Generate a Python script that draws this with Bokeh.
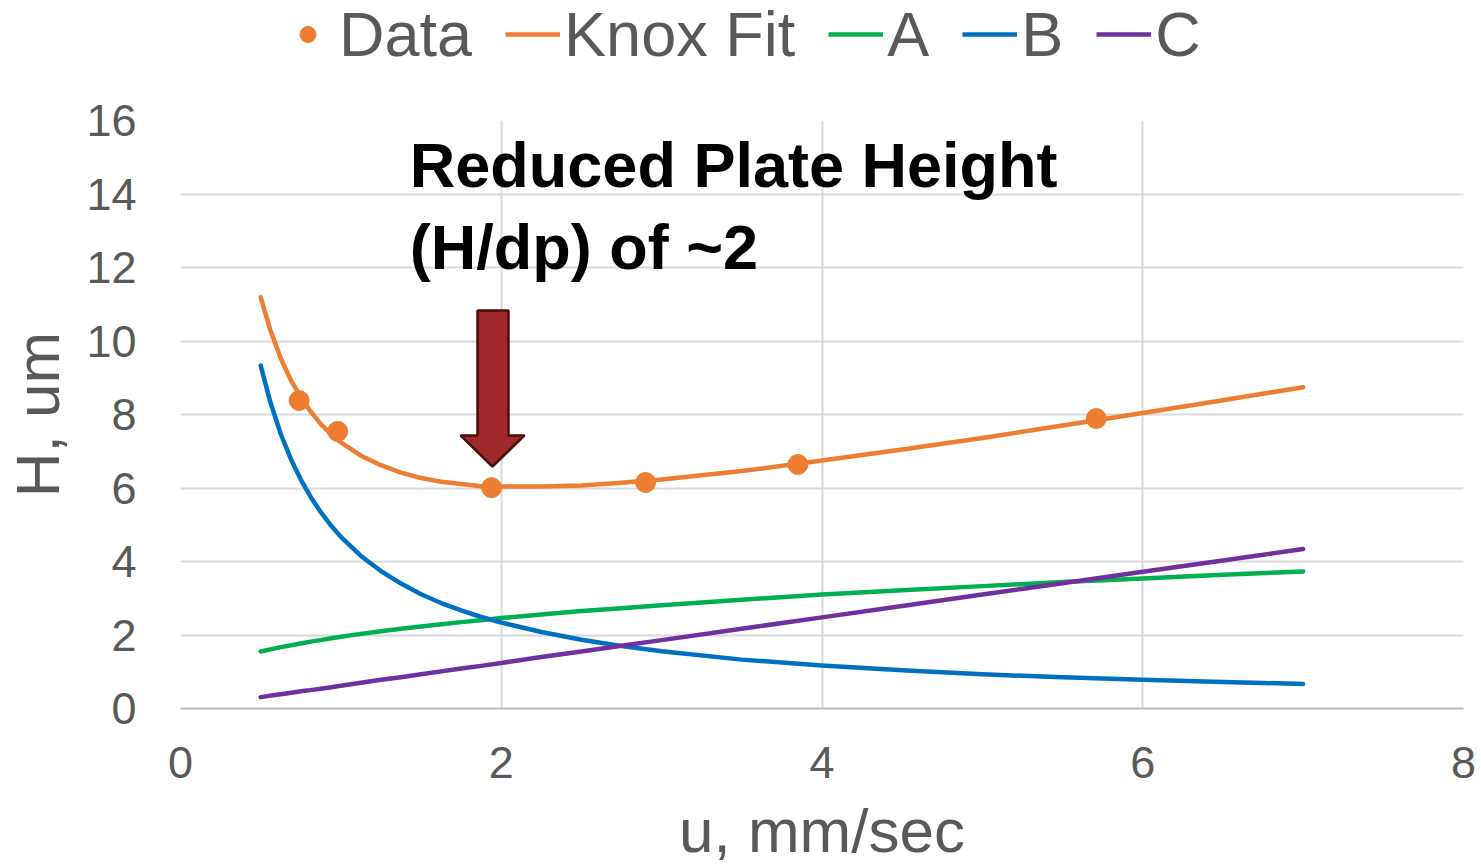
from bokeh.plotting import figure
from bokeh.models import Range1d, FixedTicker, Legend, LegendItem, Label
from bokeh.layouts import column
from bokeh.embed import file_html
from bokeh.resources import INLINE

# ---- data ----
u_data = [0.74, 0.98, 1.94, 2.90, 3.85, 5.71]
H_data = [8.38, 7.54, 6.01, 6.15, 6.64, 7.89]

u_fit = [0.5, 0.56, 0.625, 0.69, 0.75, 0.81, 0.875, 0.94, 1.0, 1.125, 1.25, 1.375, 1.5,
         1.625, 1.75, 1.875, 2.0, 2.25, 2.5, 2.75, 3.0, 3.5, 4.0, 4.5, 5.0, 5.5, 6.0, 6.5, 7.0]
knox = [11.19, 10.30, 9.53, 8.92, 8.47, 8.09, 7.74, 7.46, 7.24, 6.88, 6.62, 6.42, 6.27,
        6.17, 6.11, 6.05, 6.04, 6.04, 6.07, 6.14, 6.23, 6.46, 6.75, 7.05, 7.36, 7.70, 8.04, 8.39, 8.74]
A_term = [1.55, 1.61, 1.67, 1.72, 1.77, 1.82, 1.86, 1.91, 1.95, 2.03, 2.10, 2.17, 2.23,
          2.29, 2.35, 2.40, 2.46, 2.56, 2.65, 2.73, 2.81, 2.96, 3.10, 3.22, 3.33, 3.44, 3.54, 3.64, 3.73]
B_term = [9.33, 8.34, 7.47, 6.77, 6.23, 5.77, 5.34, 4.97, 4.67, 4.15, 3.74, 3.40, 3.11,
          2.87, 2.67, 2.49, 2.34, 2.08, 1.87, 1.70, 1.56, 1.33, 1.17, 1.04, 0.93, 0.85, 0.78, 0.72, 0.67]
C_term = [0.31, 0.35, 0.39, 0.43, 0.47, 0.50, 0.54, 0.58, 0.62, 0.70, 0.78, 0.85, 0.93,
          1.01, 1.09, 1.16, 1.24, 1.40, 1.55, 1.71, 1.86, 2.17, 2.48, 2.79, 3.10, 3.41, 3.72, 4.03, 4.34]

x_ticks = [0, 2, 4, 6, 8]
y_ticks = [0, 2, 4, 6, 8, 10, 12, 14, 16]
series_names = ["Data", "Knox Fit", "A", "B", "C"]

ORANGE = "#ED7D31"
GREEN = "#00B050"
BLUE = "#0070C0"
PURPLE = "#7030A0"
GRAY = "#595959"
FONT = "Liberation Sans"
LW = 4.5

# ---------------- main chart ----------------
p = figure(width=1481, height=787, output_backend="svg", toolbar_location=None,
           x_range=Range1d(0, 8), y_range=Range1d(0, 16),
           min_border_left=180, min_border_right=18, min_border_top=40, min_border_bottom=159)
p.outline_line_color = None
p.background_fill_color = "white"
p.border_fill_color = "white"

for ax in (p.xaxis[0], p.yaxis[0]):
    ax.major_tick_line_color = None
    ax.minor_tick_line_color = None
    ax.major_label_text_font = FONT
    ax.major_label_text_font_size = "45px"
    ax.major_label_text_color = GRAY
    ax.axis_label_text_font = FONT
    ax.axis_label_text_font_size = "62px"
    ax.axis_label_text_font_style = "normal"
    ax.axis_label_text_color = GRAY

p.xaxis[0].ticker = FixedTicker(ticks=x_ticks)
p.yaxis[0].ticker = FixedTicker(ticks=y_ticks)
p.xaxis[0].axis_label = "u, mm/sec"
p.yaxis[0].axis_label = "H, um"
p.xaxis[0].axis_line_color = "#bfbfbf"
p.xaxis[0].axis_line_width = 2
p.yaxis[0].axis_line_color = None
p.xaxis[0].major_label_standoff = 32
p.yaxis[0].major_label_standoff = 38
p.xaxis[0].axis_label_standoff = 15
p.yaxis[0].axis_label_standoff = 11

p.xgrid[0].ticker = FixedTicker(ticks=x_ticks)
p.ygrid[0].ticker = FixedTicker(ticks=y_ticks)
p.xgrid.grid_line_color = "#d9d9d9"
p.ygrid.grid_line_color = "#d9d9d9"
p.xgrid.grid_line_width = 2
p.ygrid.grid_line_width = 2

p.line(u_fit, A_term, line_color=GREEN, line_width=LW, line_join="round", line_cap="round")
p.line(u_fit, B_term, line_color=BLUE, line_width=LW, line_join="round", line_cap="round")
p.line(u_fit, C_term, line_color=PURPLE, line_width=LW, line_join="round", line_cap="round")
p.line(u_fit, knox, line_color=ORANGE, line_width=LW, line_join="round", line_cap="round")
p.scatter(u_data, H_data, size=20, marker="circle", fill_color=ORANGE, line_color=ORANGE)

# block arrow annotation (data units)
arrow_x = [1.852, 2.045, 2.045, 2.145, 1.945, 1.746, 1.852]
arrow_y = [10.83, 10.83, 7.43, 7.43, 6.585, 7.43, 7.43]
p.patch(arrow_x, arrow_y, fill_color="#A0282A", line_color="#4A0B0B", line_width=2.5)

note = Label(x=1.43, y=15.75, text="Reduced Plate Height\n(H/dp) of ~2",
             text_font=FONT, text_font_size="63px", text_font_style="bold",
             text_color="black", text_baseline="top", text_align="left",
             text_line_height=1.17)
p.add_layout(note)

# ---------------- legend strip on top ----------------
lg = figure(width=1481, height=80, output_backend="svg", toolbar_location=None,
            x_range=Range1d(0, 1), y_range=Range1d(0, 1),
            min_border=0, min_border_left=0, min_border_right=0,
            min_border_top=0, min_border_bottom=0)
lg.axis.visible = False
lg.grid.visible = False
lg.outline_line_color = None
lg.border_fill_color = "white"
lg.background_fill_color = "white"

off = [-10, -9]
lD = lg.scatter(off, off, size=22, marker="circle", fill_color=ORANGE, line_color=ORANGE)
lK = lg.line(off, off, line_color=ORANGE, line_width=LW)
lA = lg.line(off, off, line_color=GREEN, line_width=LW)
lB = lg.line(off, off, line_color=BLUE, line_width=LW)
lC = lg.line(off, off, line_color=PURPLE, line_width=LW)

legend = Legend(items=[LegendItem(label=n, renderers=[r]) for n, r in
                       zip(series_names, [lD, lK, lA, lB, lC])],
                orientation="horizontal", location=(100, 10))
legend.label_text_font = FONT
legend.label_text_font_size = "63px"
legend.label_text_color = GRAY
legend.glyph_width = 55
legend.glyph_height = 40
legend.label_standoff = 4
legend.spacing = 33
legend.padding = 0
legend.margin = 0
legend.border_line_color = None
legend.background_fill_alpha = 0
lg.add_layout(legend, "center")

layout = column(lg, p, spacing=0)
open("out.html", "w").write(file_html(layout, INLINE))
